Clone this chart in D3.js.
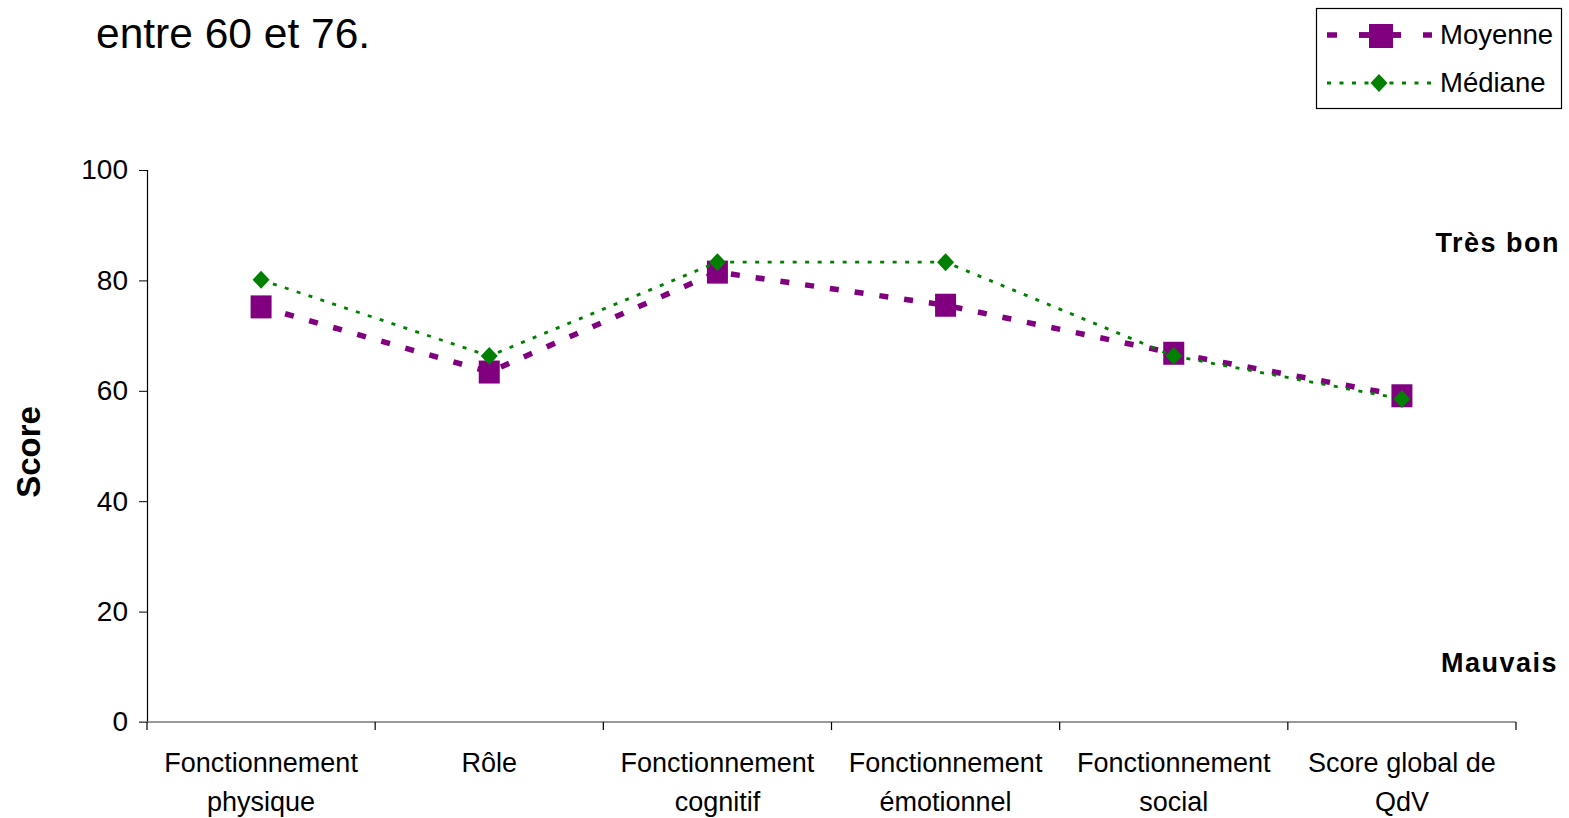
<!DOCTYPE html>
<html>
<head>
<meta charset="utf-8">
<script src="https://cdn.jsdelivr.net/npm/d3@7"></script>
<style>
  html, body { margin: 0; padding: 0; background: #fff; }
  svg { display: block; font-family: "Liberation Sans", Arial, sans-serif; }
</style>
</head>
<body>
<svg id="chart" width="1569" height="818"></svg>
<script>
// Scores par dimension de qualité de vie
const categories = [
  ["Fonctionnement", "physique"],
  ["Rôle"],
  ["Fonctionnement", "cognitif"],
  ["Fonctionnement", "émotionnel"],
  ["Fonctionnement", "social"],
  ["Score global de", "QdV"]
];
const moyenne = [75.2, 63.4, 81.5, 75.5, 66.8, 59.1];
const mediane = [80.1, 66.3, 83.3, 83.3, 66.3, 58.5];
const yTicks = [0, 20, 40, 60, 80, 100];

const svg = d3.select("#chart");
const m = { left: 147, right: 1516, top: 170, bottom: 722 };

const x = d3.scaleBand().domain(d3.range(categories.length)).range([m.left, m.right]).padding(0);
const y = d3.scaleLinear().domain([0, 100]).range([m.bottom, m.top]);
const cx = i => x(i) + x.bandwidth() / 2;

// Texte d'introduction
svg.append("text").attr("x", 96).attr("y", 48)
  .attr("font-size", 42.5).attr("fill", "#000").text("entre 60 et 76.");

// Axe Y
const yAxis = svg.append("g").attr("transform", `translate(${m.left},0)`)
  .call(d3.axisLeft(y).tickValues(yTicks).tickSize(8).tickPadding(11));
yAxis.select(".domain").attr("stroke", "#000").attr("stroke-width", 1.2);
yAxis.selectAll(".tick line").attr("stroke", "#000");
yAxis.selectAll(".tick text").attr("font-size", 28).attr("fill", "#000")
  .attr("font-family", "Liberation Sans, Arial, sans-serif");

// Axe X
const xAxis = svg.append("g").attr("transform", `translate(0,${m.bottom})`);
xAxis.append("line").attr("x1", m.left - 8).attr("x2", m.right)
  .attr("stroke", "#777").attr("stroke-width", 1.5);
const bounds = d3.range(categories.length + 1).map(i => i < categories.length ? x(i) : m.right);
xAxis.selectAll("line.tk").data(bounds).join("line").attr("class", "tk")
  .attr("x1", d => d).attr("x2", d => d).attr("y1", 0).attr("y2", 8)
  .attr("stroke", "#000").attr("stroke-width", 1.2);
const lbl = xAxis.selectAll("text.cat").data(categories).join("text").attr("class", "cat")
  .attr("text-anchor", "middle").attr("font-size", 27).attr("fill", "#000");
lbl.each(function (lines, i) {
  d3.select(this).selectAll("tspan").data(lines).join("tspan")
    .attr("x", cx(i)).attr("y", (d, j) => 50 + j * 39).text(d => d);
});

// Titre de l'axe Y
svg.append("text").attr("transform", "translate(40,452) rotate(-90)")
  .attr("text-anchor", "middle").attr("font-size", 33).attr("font-weight", "bold")
  .attr("fill", "#000").text("Score");

// Repères qualitatifs
svg.append("text").attr("x", 1560).attr("y", 252).attr("text-anchor", "end")
  .attr("font-size", 27).attr("font-weight", "bold").attr("letter-spacing", 1.5)
  .attr("fill", "#000").text("Très bon");
svg.append("text").attr("x", 1558).attr("y", 672).attr("text-anchor", "end")
  .attr("font-size", 27).attr("font-weight", "bold").attr("letter-spacing", 1.5)
  .attr("fill", "#000").text("Mauvais");

const purple = "#800080", green = "#008000";
const line = d3.line().x((d, i) => cx(i)).y(d => y(d));

// Moyenne : tirets violets et carrés
svg.append("path").datum(moyenne).attr("d", line).attr("fill", "none")
  .attr("stroke", purple).attr("stroke-width", 5.5).attr("stroke-dasharray", "9 16");
svg.selectAll("rect.moy").data(moyenne).join("rect").attr("class", "moy")
  .attr("x", (d, i) => cx(i) - 10.5).attr("y", d => y(d) - 11.5)
  .attr("width", 21).attr("height", 23).attr("fill", purple);

// Médiane : pointillés verts et losanges
svg.append("path").datum(mediane).attr("d", line).attr("fill", "none")
  .attr("stroke", green).attr("stroke-width", 2.8).attr("stroke-dasharray", "4 8.5");
const diamond = (px, py) => `M${px},${py - 9}L${px + 8.5},${py}L${px},${py + 9}L${px - 8.5},${py}Z`;
svg.selectAll("path.med").data(mediane).join("path").attr("class", "med")
  .attr("d", (d, i) => diamond(cx(i), y(d))).attr("fill", green);

// Légende
const lg = svg.append("g");
lg.append("rect").attr("x", 1316.5).attr("y", 8.5).attr("width", 245).attr("height", 100)
  .attr("fill", "#fff").attr("stroke", "#000").attr("stroke-width", 1.2);
lg.append("line").attr("x1", 1327).attr("x2", 1432).attr("y1", 35).attr("y2", 35)
  .attr("stroke", purple).attr("stroke-width", 5.5).attr("stroke-dasharray", "10 22");
lg.append("rect").attr("x", 1369).attr("y", 24).attr("width", 24).attr("height", 24).attr("fill", purple);
lg.append("line").attr("x1", 1359).attr("x2", 1401).attr("y1", 35).attr("y2", 35)
  .attr("stroke", purple).attr("stroke-width", 5.5);
lg.append("text").attr("x", 1440).attr("y", 44).attr("font-size", 27.5).attr("fill", "#000").text("Moyenne");
lg.append("line").attr("x1", 1327).attr("x2", 1432).attr("y1", 83).attr("y2", 83)
  .attr("stroke", green).attr("stroke-width", 2.8).attr("stroke-dasharray", "4 8.5");
lg.append("path").attr("d", diamond(1379, 83)).attr("fill", green);
lg.append("text").attr("x", 1440).attr("y", 92).attr("font-size", 27.5).attr("fill", "#000").text("Médiane");
</script>
</body>
</html>
